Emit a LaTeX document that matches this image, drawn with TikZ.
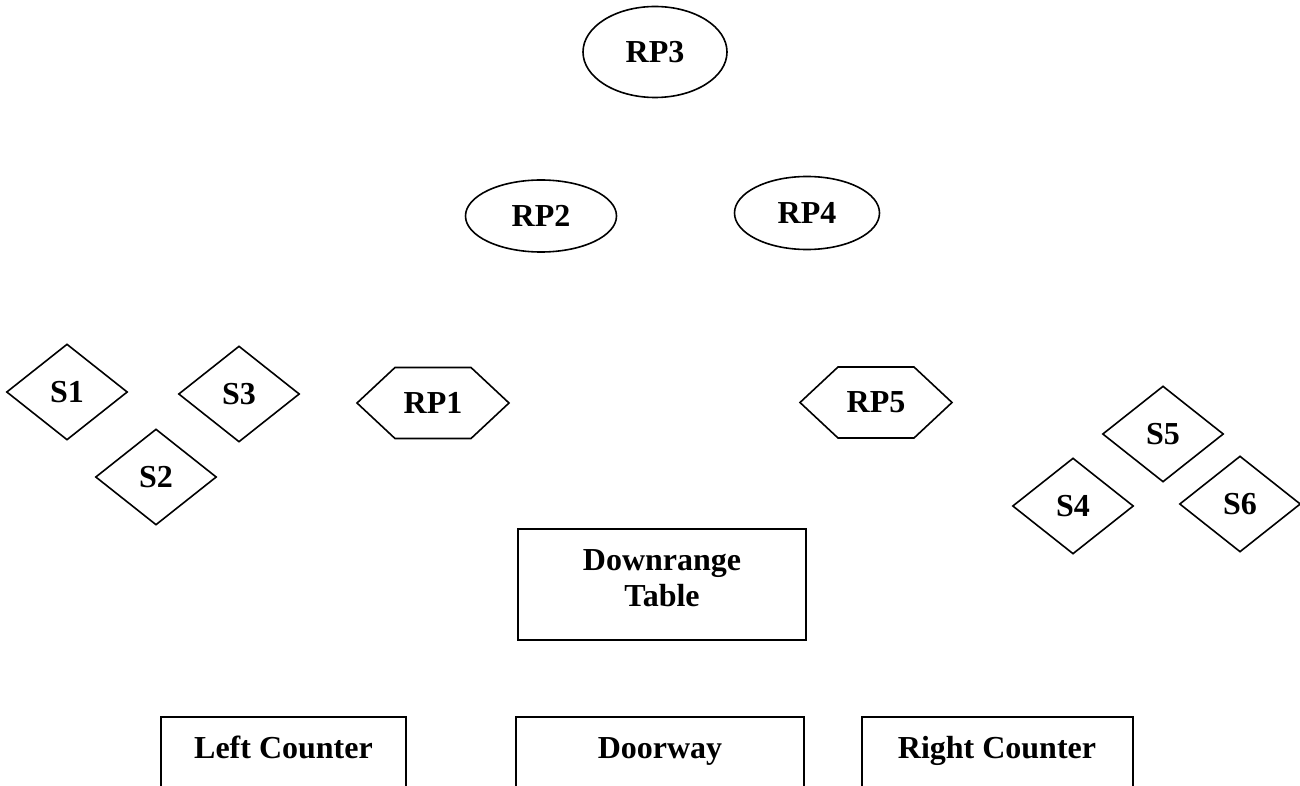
\documentclass[tikz,border=0pt]{standalone}
\usepackage{fontspec}
\setmainfont{Liberation Serif}
\usetikzlibrary{shapes.geometric,calc}
\begin{document}
\begin{tikzpicture}[x=1pt,y=-1pt,
  every node/.style={font=\fontsize{32}{36}\selectfont\bfseries},
  oval/.style={draw, ellipse, line width=1.6pt, inner sep=0pt},
  dia/.style={draw, diamond, line width=1.6pt, inner sep=0pt, minimum width=121pt, minimum height=96pt},
  outline/.style={line width=1.6pt, line join=miter},
  txt/.style={inner sep=0pt, align=center}]
\useasboundingbox (0,0) rectangle (1300,786);

% ellipses
\node[oval, minimum width=144pt, minimum height=91pt] (rp3) at (655,52) {RP3};
\node[oval, minimum width=151pt, minimum height=72pt] (rp2) at (541,216) {RP2};
\node[oval, minimum width=145pt, minimum height=73pt] (rp4) at (807,213) {RP4};

% hexagons
\node[txt] (rp1) at (433,403) {RP1};
\draw[outline] ($(rp1)+(-76,0)$) -- ($(rp1)+(-38,-35.5)$) -- ($(rp1)+(38,-35.5)$)
  -- ($(rp1)+(76,0)$) -- ($(rp1)+(38,35.5)$) -- ($(rp1)+(-38,35.5)$) -- cycle;
\node[txt] (rp5) at (876,402.5) {RP5};
\draw[outline] ($(rp5)+(-76,0)$) -- ($(rp5)+(-38,-35.5)$) -- ($(rp5)+(38,-35.5)$)
  -- ($(rp5)+(76,0)$) -- ($(rp5)+(38,35.5)$) -- ($(rp5)+(-38,35.5)$) -- cycle;

% diamonds
\node[dia] (s1) at (67,392) {S1};
\node[dia] (s3) at (239,394) {S3};
\node[dia] (s2) at (156,477) {S2};
\node[dia] (s5) at (1163,434) {S5};
\node[dia] (s4) at (1073,506) {S4};
\node[dia] (s6) at (1240,504) {S6};

% downrange table
\node[txt, anchor=base] (dt) at (662,606) {Downrange\\Table};
\draw[outline] (518,529) rectangle (806,640);

% bottom counters (open at the bottom)
\node[txt, anchor=base] (lc) at (283.5,758) {Left Counter};
\draw[outline] (161,786) -- (161,717) -- (406,717) -- (406,786);
\node[txt, anchor=base] (dw) at (660,758) {Doorway};
\draw[outline] (516,786) -- (516,717) -- (804,717) -- (804,786);
\node[txt, anchor=base] (rc) at (997,758) {Right Counter};
\draw[outline] (862,786) -- (862,717) -- (1133,717) -- (1133,786);
\end{tikzpicture}
\end{document}
